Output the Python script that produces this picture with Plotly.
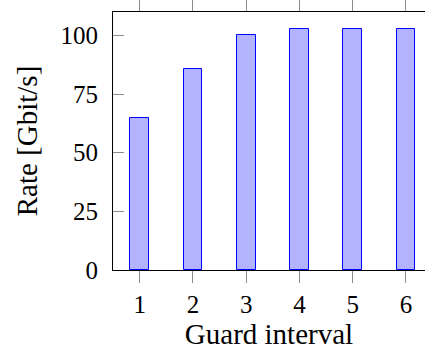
import plotly.graph_objects as go

categories = [1, 2, 3, 4, 5, 6]
rates = [64.6, 85.8, 100.3, 102.7, 102.7, 102.7]
y_ticks = [0, 25, 50, 75, 100]
x_label = "Guard interval"
y_label = "Rate [Gbit/s]"

FONT = "Liberation Serif"
TICK_SIZE = 25
TITLE_SIZE = 29

fig = go.Figure()
fig.add_trace(go.Bar(
    x=categories, y=rates, width=0.35,
    marker=dict(color="#b3b3ff", line=dict(color="#0000ff", width=1)),
))

fig.update_layout(
    width=425, height=356,
    margin=dict(l=113, r=0, t=12, b=86),
    paper_bgcolor="white", plot_bgcolor="white",
    font=dict(family=FONT, size=TICK_SIZE, color="black"),
    showlegend=False,
    bargap=0,
)
fig.update_xaxes(
    range=[0.5, 6.357], tickvals=categories, ticktext=[str(c) for c in categories],
    ticks="outside", ticklen=12, tickcolor="#8c8c8c", tickwidth=1,
    showline=True, linecolor="black", linewidth=1, mirror="ticks",
    showgrid=False, zeroline=False, automargin=False,
    tickfont=dict(family=FONT, size=TICK_SIZE, color="black"),
    title=dict(text=x_label, standoff=6, font=dict(family=FONT, size=TITLE_SIZE)),
)
fig.update_layout(
    yaxis=dict(
        range=[0, 110], tickvals=y_ticks,
        ticks="inside", ticklen=11, tickcolor="#8c8c8c", tickwidth=1,
        showline=True, linecolor="black", linewidth=1, mirror=False,
        showgrid=False, zeroline=False, automargin=False,
        tickfont=dict(family=FONT, size=TICK_SIZE, color="black"),
        ticklabelstandoff=9,
        title=dict(text=y_label, standoff=14, font=dict(family=FONT, size=TITLE_SIZE)),
    ),
    yaxis2=dict(
        range=[0, 110], tickvals=y_ticks, overlaying="y", side="right",
        ticks="inside", ticklen=5, tickcolor="#8c8c8c", tickwidth=1,
        showline=False, showticklabels=False, showgrid=False, zeroline=False,
        automargin=False,
    ),
)

fig.write_html("out.html", post_script="document.body.style.overflow='hidden';")
